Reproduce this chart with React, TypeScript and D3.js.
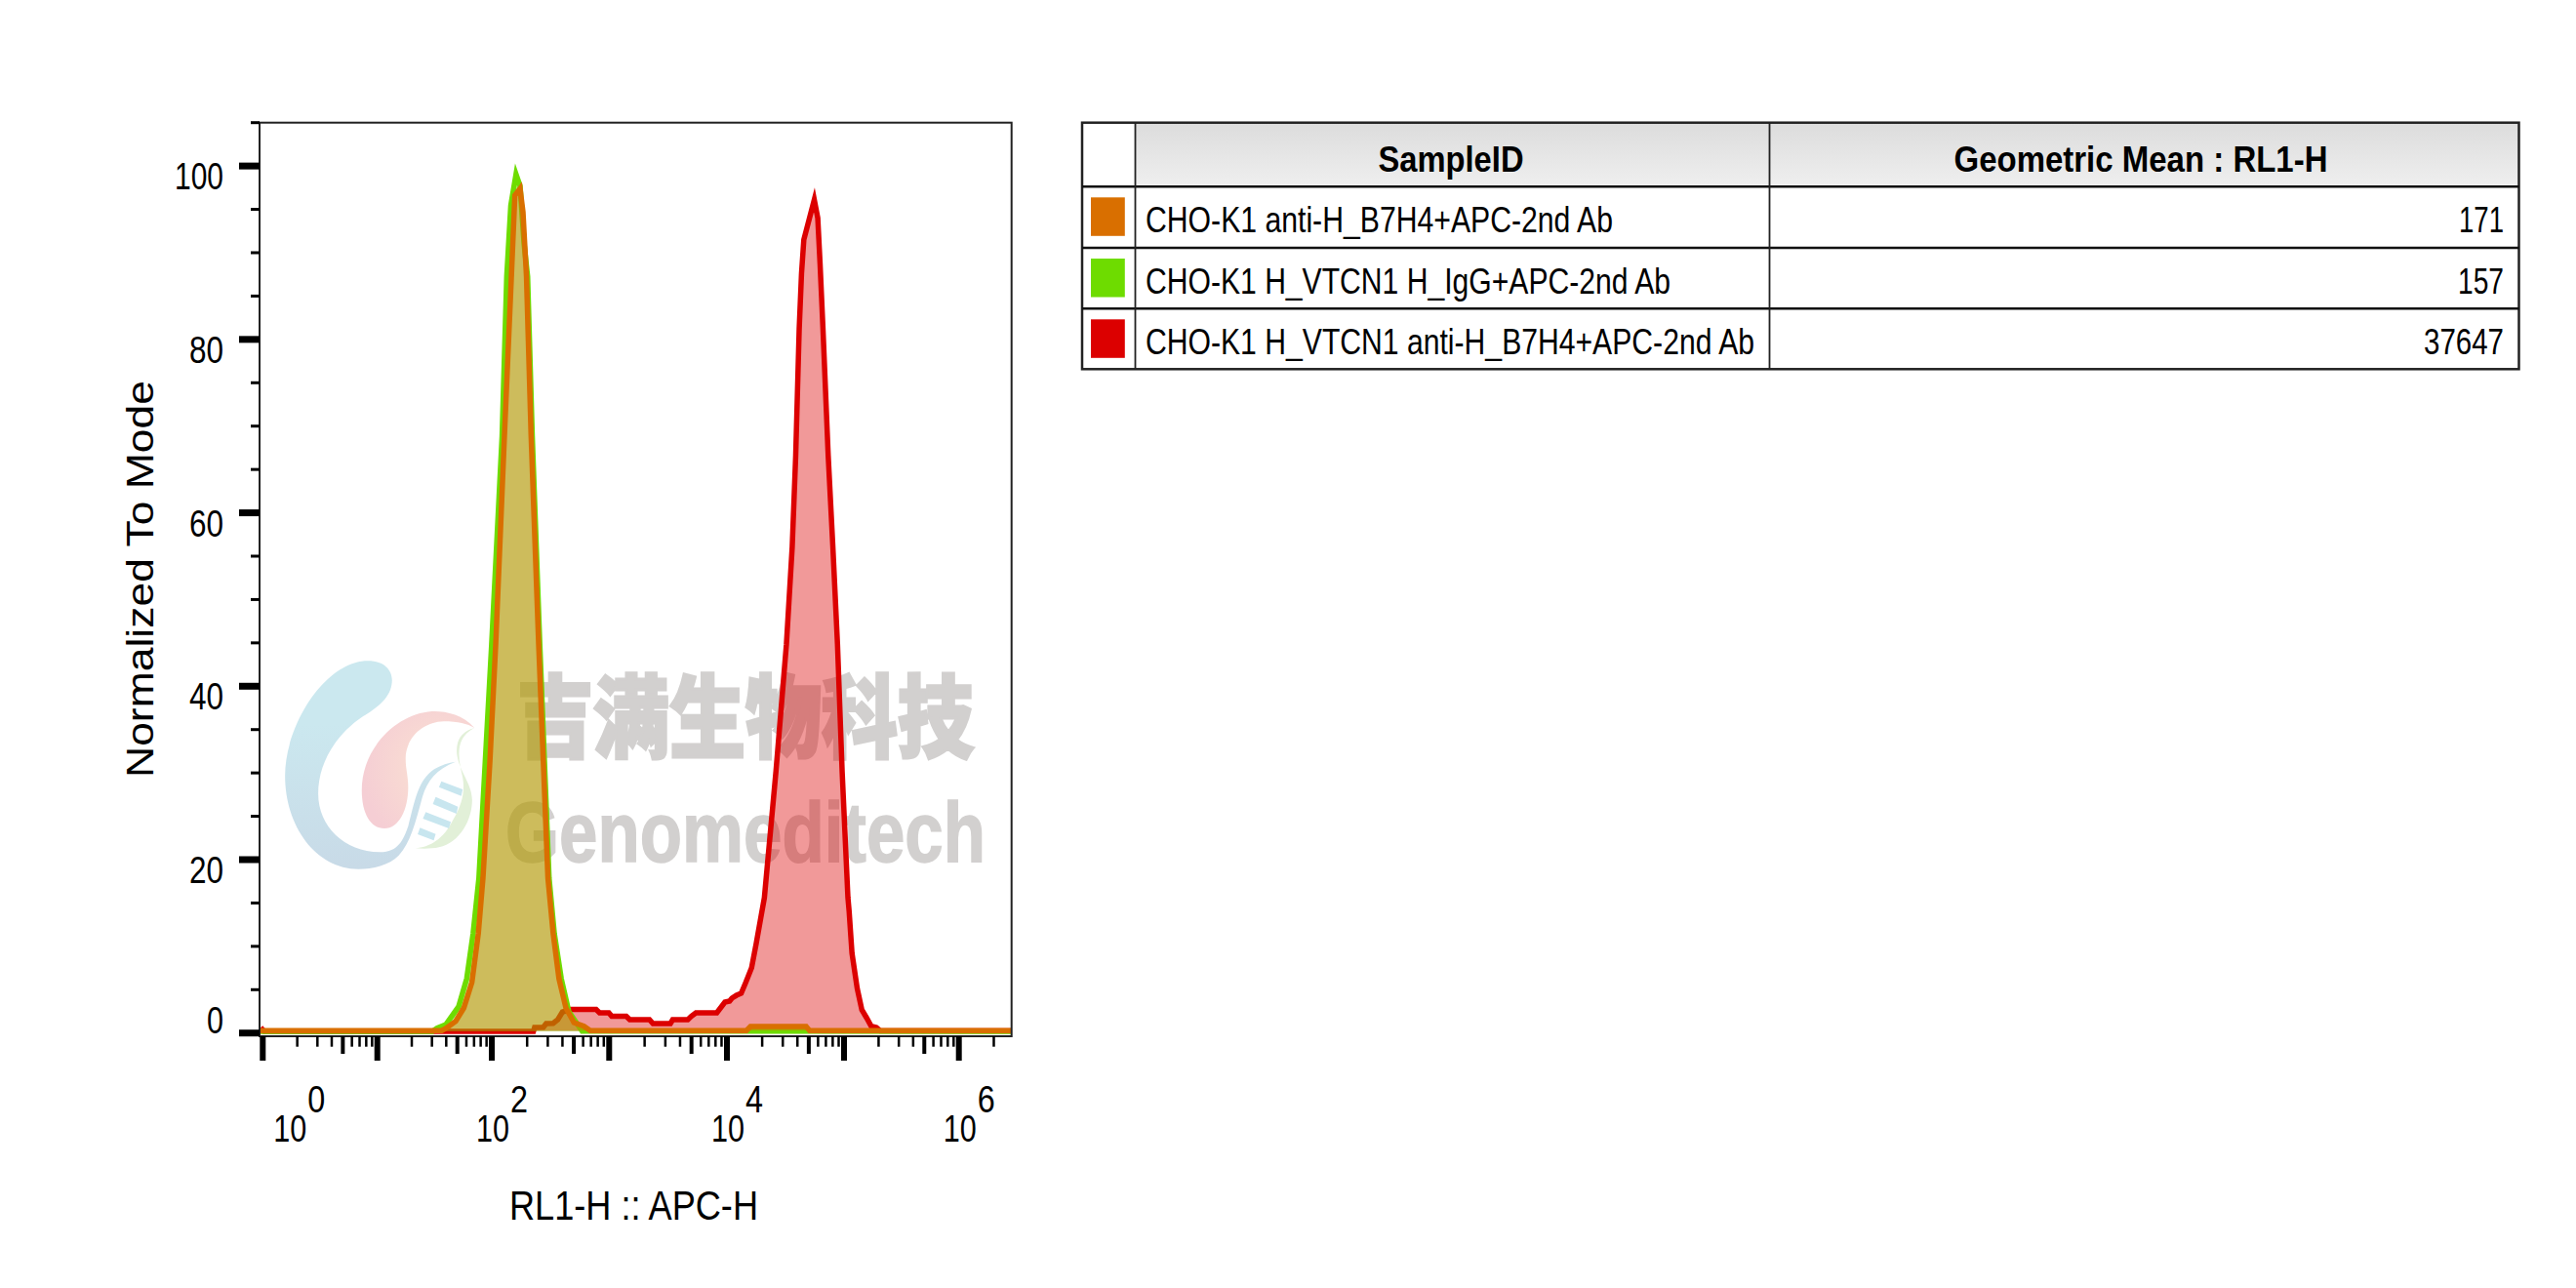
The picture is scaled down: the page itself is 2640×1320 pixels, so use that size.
import React from 'react';
import * as d3 from 'd3';

// histogram outlines: [log10 intensity, % of mode]
const redCurve: [number, number][] = [
  [-0.02, 0.64], [0.01, 0.19], [2.33, 0.19], [2.34, 0.64], [2.415, 0.67], [2.44, 1.09], [2.5, 1.12], [2.54, 1.54],
  [2.58, 2.44], [2.65, 2.72], [2.87, 2.72], [2.9, 2.33], [2.98, 2.33], [3.005, 1.93], [3.13, 1.93], [3.16, 1.54],
  [3.33, 1.54], [3.36, 1.09], [3.51, 1.09], [3.53, 1.54], [3.66, 1.54], [3.69, 1.93], [3.73, 2.33], [3.91, 2.33],
  [3.98, 3.57], [4.02, 3.68], [4.04, 4.02], [4.08, 4.35], [4.12, 4.58], [4.16, 5.85], [4.21, 7.54], [4.25, 10.35],
  [4.29, 13.35], [4.32, 15.6], [4.42, 30.2], [4.51, 44.85], [4.56, 56.1], [4.59, 66.6], [4.62, 81.2], [4.64, 87.6],
  [4.66, 91.5], [4.75, 96.1], [4.78, 94], [4.8, 88.7], [4.825, 81.2], [4.87, 66.6], [4.91, 56.1], [4.95, 44.85],
  [4.99, 30.2], [5.04, 15.6], [5.05, 14.1], [5.075, 9.2], [5.12, 5.14], [5.16, 2.67], [5.2, 1.77], [5.24, 0.79],
  [5.285, 0.64], [5.32, 0.25], [6.45, 0.25],
];
const greenCurve: [number, number][] = [
  [-0.03, 0.19], [1.46, 0.19], [1.5, 0.58], [1.575, 0.98], [1.685, 3.04], [1.755, 6.27], [1.81, 11.47], [1.86, 17.85],
  [1.915, 31.35], [1.97, 44.85], [2.06, 68.85], [2.1, 87.25], [2.135, 95.45], [2.18, 99.05], [2.215, 97.7], [2.25, 90.95],
  [2.28, 87.25], [2.32, 68.85], [2.385, 44.85], [2.425, 31.35], [2.465, 17.85], [2.51, 11.47], [2.57, 6.27], [2.635, 2.47],
  [2.75, 0.22], [6.45, 0.19],
];
const orangeCurve: [number, number][] = [
  [-0.03, 0.28], [1.54, 0.28], [1.575, 0.53], [1.66, 1.35], [1.73, 2.89], [1.8, 5.85], [1.855, 11.47], [1.895, 17.85],
  [1.955, 31.35], [2.005, 44.85], [2.08, 68.85], [2.14, 87.25], [2.17, 96.6], [2.215, 97.4], [2.24, 94.7], [2.27, 87.25],
  [2.31, 68.85], [2.375, 44.85], [2.415, 31.35], [2.455, 17.85], [2.5, 11.47], [2.55, 6.27], [2.61, 2.89], [2.68, 1.2],
  [2.765, 0.79], [2.82, 0.28], [4.165, 0.28], [4.2, 0.75], [4.68, 0.75], [4.71, 0.28], [6.45, 0.28],
];

const yMajorTicks = [0, 20, 40, 60, 80, 100];
const yMinorTicks = [5, 10, 15, 25, 30, 35, 45, 50, 55, 65, 70, 75, 85, 90, 95, 105];
const xDecades = [0, 1, 2, 3, 4, 5, 6];
const xLabelDecades = [0, 2, 4, 6];
const xMinorMultipliers = [2, 3, 4, 6, 7, 8, 9];

const sampleNames = [
  'CHO-K1 anti-H_B7H4+APC-2nd Ab',
  'CHO-K1 H_VTCN1 H_IgG+APC-2nd Ab',
  'CHO-K1 H_VTCN1 anti-H_B7H4+APC-2nd Ab',
];
const geoMeans = ['171', '157', '37647'];
const sampleColors = ['#d96f00', '#6edc00', '#dc0000'];
const sampleTextWidths = [479, 538, 624];
const geoTextWidths = [46, 47, 82];

const plot = { left: 266, right: 1036.7, top: 125.7, bottom: 1062 };
const table = { left: 1109, c1: 1163.5, c2: 1813.5, right: 2581.5, top: 125.7, rows: [191.3, 254, 316.3, 378.3] };
const FONT = '"Liberation Sans", Arial, sans-serif';

const x = d3.scaleLog().domain([Math.pow(10, -0.03), Math.pow(10, 6.45)]).range([plot.left, plot.right]);
const y = d3.scaleLinear().domain([-0.37, 105]).range([plot.bottom, plot.top]);
const px = (e: number) => x(Math.pow(10, e));

// the decades on the printed axis are not evenly spaced, so ticks get their own scale
const tickX = d3.scaleLinear()
  .domain([0, 1, 2, 3, 4, 5, 6, 7])
  .range([269.3, 386.7, 504, 624.3, 745, 865, 982.7, 1101.6]);
const tickPx = (v: number) => tickX(Math.log10(v));

const line = d3.line<[number, number]>().x(d => px(d[0])).y(d => y(d[1]));
const area = (pts: [number, number][]) =>
  d3.area<[number, number]>().x(d => px(d[0])).y1(d => y(d[1])).y0(y(pts[pts.length - 1][1]))(pts) as string;

const xMinor: number[] = [];
xDecades.slice(0, -1).forEach(d => xMinorMultipliers.forEach(m => xMinor.push(m * Math.pow(10, d))));
xMinor.push(2e6);
const xMid = xDecades.slice(0, -1).map(d => 5 * Math.pow(10, d));

const Curve = ({ pts, color }: { pts: [number, number][]; color: string }) => (
  <g>
    <path d={area(pts)} fill={color} fillOpacity={0.4} />
    <path d={line(pts) as string} fill="none" stroke={color} strokeWidth={5.5} strokeLinejoin="miter" strokeMiterlimit={10} />
  </g>
);

const Logo = () => (
  <g transform="translate(280,660) scale(0.4854,0.3333)">
    <defs>
      <linearGradient id="wmBlue" x1="0" y1="0" x2="0" y2="1">
        <stop offset="0.3" stopColor="#cbe8ef" />
        <stop offset="1" stopColor="#c8dae7" />
      </linearGradient>
      <radialGradient id="wmPink" cx="0.7" cy="0.5" r="0.7">
        <stop offset="0" stopColor="#fbe3d2" />
        <stop offset="1" stopColor="#f5ced4" />
      </radialGradient>
    </defs>
    <path fill="url(#wmBlue)" d="M200,52 C240,52 255,90 250,125 C245,170 215,200 190,222 C130,280 95,370 95,460 C95,560 150,640 225,640 C265,640 275,600 285,560 C300,480 305,420 340,385 C355,372 370,365 385,362 C345,385 325,420 315,470 C300,550 290,610 265,650 C245,680 210,692 180,692 C90,692 25,560 25,405 C25,250 110,52 200,52 Z" />
    <path fill="url(#wmPink)" d="M425,258 C400,215 360,205 335,207 C260,215 187,320 187,450 C187,520 205,567 235,567 C265,567 285,510 285,440 C285,400 278,380 280,340 C285,280 320,240 360,238 C390,238 410,245 425,258 Z" />
    <path fill="#e2f0d8" d="M425,258 C395,270 385,300 388,340 C392,390 420,430 420,480 C420,540 395,610 350,625 C335,630 315,630 300,628 C330,625 360,600 380,540 C400,490 405,450 400,410 C392,360 380,290 425,258 Z" />
    <g fill="#c8e6ef">
      <polygon points="355,422 400,447 397,467 350,440" />
      <polygon points="343,470 390,500 387,522 337,492" />
      <polygon points="322,517 375,547 371,567 316,537" />
      <polygon points="310,565 343,584 339,604 305,585" />
    </g>
  </g>
);

export default function App() {
  return (
    <svg width={2640} height={1320} viewBox="0 0 2640 1320"
      style={{ position: 'absolute', left: 0, top: 0, display: 'block', background: '#fff' }}>
      <defs>
        <linearGradient id="headerFill" x1="0" y1="0" x2="0" y2="1">
          <stop offset="0" stopColor="#dcdcdc" />
          <stop offset="1" stopColor="#efefef" />
        </linearGradient>
      </defs>

      {/* watermark sits under the histograms */}
      <Logo />
      <g fill="#d2d0cf" stroke="#d2d0cf">
        <text x={530} y={769} fontSize={92} fontWeight={900} strokeWidth={3} textLength={468} lengthAdjust="spacingAndGlyphs"
          fontFamily='"Noto Sans CJK SC", sans-serif'>吉满生物科技</text>
        <text x={518} y={883} fontSize={88} fontWeight={700} strokeWidth={1.5} textLength={492} lengthAdjust="spacingAndGlyphs"
          fontFamily={FONT}>Genomeditech</text>
      </g>

      <Curve pts={redCurve} color={sampleColors[2]} />
      <Curve pts={greenCurve} color={sampleColors[1]} />
      <Curve pts={orangeCurve} color={sampleColors[0]} />

      {/* frame */}
      <rect x={plot.left} y={plot.top} width={plot.right - plot.left} height={plot.bottom - plot.top}
        fill="none" stroke="#222" strokeWidth={2} />

      {/* y axis */}
      {yMinorTicks.map(t => (
        <line key={t} x1={257} x2={plot.left} y1={y(t)} y2={y(t)} stroke="#000" strokeWidth={3} />
      ))}
      {yMajorTicks.map(t => (
        <g key={t}>
          <line x1={245} x2={plot.left} y1={y(t)} y2={y(t)} stroke="#000" strokeWidth={7} />
          <text x={229} y={t === 0 ? y(t) : y(t) + 24} textAnchor="end" fontSize={38} fontFamily={FONT}
            textLength={t === 100 ? 50 : t === 0 ? 17 : 35} lengthAdjust="spacingAndGlyphs">{t}</text>
        </g>
      ))}
      <text transform="translate(157,593.5) rotate(-90)" textAnchor="middle" fontSize={38} fontFamily={FONT}
        textLength={407} lengthAdjust="spacingAndGlyphs">Normalized To Mode</text>

      {/* x axis */}
      {xMinor.map(t => (
        <line key={t} x1={tickPx(t)} x2={tickPx(t)} y1={plot.bottom} y2={1072.7} stroke="#000" strokeWidth={2.5} />
      ))}
      {xMid.map(t => (
        <line key={t} x1={tickPx(t)} x2={tickPx(t)} y1={plot.bottom} y2={1080} stroke="#000" strokeWidth={4} />
      ))}
      {xDecades.map(d => (
        <line key={d} x1={tickX(d)} x2={tickX(d)} y1={plot.bottom} y2={1087} stroke="#000" strokeWidth={6} />
      ))}
      {xLabelDecades.map(d => {
        const cx = tickX(d) + (d === 0 ? 28 : 1);
        return (
          <g key={d} fontSize={38} fontFamily={FONT}>
            <text x={cx} y={1170} textAnchor="middle" textLength={34} lengthAdjust="spacingAndGlyphs">10</text>
            <text x={cx + 27} y={1140} textAnchor="middle" textLength={18} lengthAdjust="spacingAndGlyphs">{d}</text>
          </g>
        );
      })}
      <text x={649.5} y={1250} textAnchor="middle" fontSize={42} fontFamily={FONT}
        textLength={255} lengthAdjust="spacingAndGlyphs">RL1-H :: APC-H</text>

      {/* stats table */}
      <g fontFamily={FONT} fontSize={37}>
        <rect x={table.c1} y={table.top} width={table.right - table.c1} height={table.rows[0] - table.top} fill="url(#headerFill)" />
        <rect x={table.left} y={table.top} width={table.right - table.left} height={table.rows[3] - table.top}
          fill="none" stroke="#222" strokeWidth={2.5} />
        {table.rows.slice(0, 3).map(r => (
          <line key={r} x1={table.left} x2={table.right} y1={r} y2={r} stroke="#111" strokeWidth={2.5} />
        ))}
        {[table.c1, table.c2].map(c => (
          <line key={c} x1={c} x2={c} y1={table.top} y2={table.rows[3]} stroke="#222" strokeWidth={1.8} />
        ))}
        <text x={1487} y={176} textAnchor="middle" fontWeight={700} textLength={149} lengthAdjust="spacingAndGlyphs">SampleID</text>
        <text x={2194} y={176} textAnchor="middle" fontWeight={700} textLength={383} lengthAdjust="spacingAndGlyphs">Geometric Mean : RL1-H</text>
        {sampleNames.map((name, i) => {
          const top = table.rows[i];
          return (
            <g key={name}>
              <rect x={1118} y={top + 11} width={34.8} height={39.5} fill={sampleColors[i]} />
              <text x={1174} y={top + 47} textLength={sampleTextWidths[i]} lengthAdjust="spacingAndGlyphs">{name}</text>
              <text x={2566} y={top + 47} textAnchor="end" textLength={geoTextWidths[i]} lengthAdjust="spacingAndGlyphs">{geoMeans[i]}</text>
            </g>
          );
        })}
      </g>
    </svg>
  );
}
